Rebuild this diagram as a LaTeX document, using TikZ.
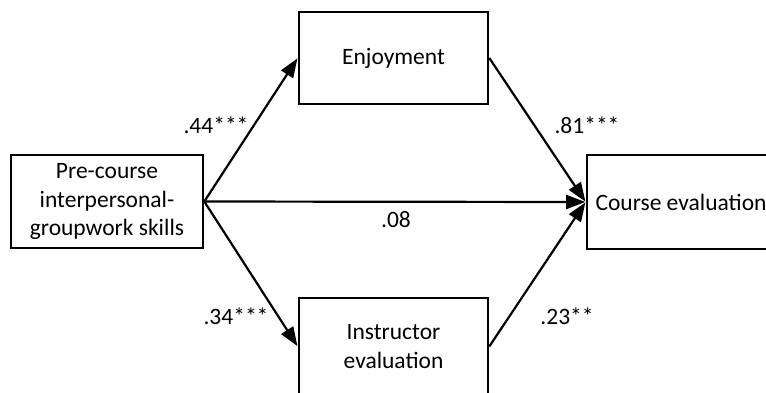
\documentclass[tikz,border=0pt]{standalone}
\usepackage{fontspec}
\setmainfont{Carlito}
\usetikzlibrary{arrows.meta}
\begin{document}
\begin{tikzpicture}[x=1pt,y=-1pt,
  box/.style={draw=black,line width=2.6pt,rectangle,inner sep=0pt,align=center,
    font=\fontsize{23.5}{28.5}\selectfont},
  lab/.style={inner sep=0pt,font=\fontsize{23.5}{28}\selectfont},
  arr/.style={line width=2.2pt,-{Triangle[length=19pt,width=14pt]},shorten >=0.5pt}]
\useasboundingbox (0,0) rectangle (766,392);
\fill[white] (0,0) rectangle (766,392);
\node[box,minimum width=192pt,minimum height=93pt] (pre) at (107,201.5) {Pre-course\\interpersonal-\\groupwork skills};
\node[box,minimum width=189pt,minimum height=92pt] (enj) at (393.5,58) {Enjoyment};
\node[box,minimum width=189pt,minimum height=97pt] (ins) at (393.5,346.5) {Instructor\\evaluation};
\node[box,minimum width=188pt,minimum height=94pt] (crs) at (681,202) {Course evaluation};
\draw[arr] (pre.east) -- (enj.west);
\draw[arr] (pre.east) -- (ins.west);
\draw[arr] (pre.east) -- (crs.west);
\draw[arr] (enj.east) -- (crs.west);
\draw[arr] (ins.east) -- (crs.west);
\node[lab] (l44) at (216,125) {.44***};
\node[lab] (l81) at (587,125) {.81***};
\node[lab] (l08) at (396,220) {.08};
\node[lab] (l34) at (236,316) {.34***};
\node[lab] (l23) at (567,316) {.23**};
\end{tikzpicture}
\end{document}
